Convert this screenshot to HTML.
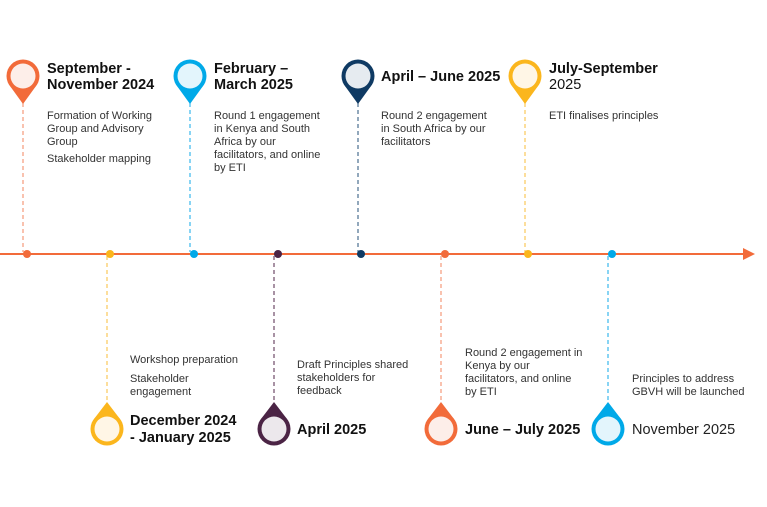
<!DOCTYPE html>
<html><head><meta charset="utf-8"><style>
html,body{margin:0;padding:0;background:#fff;}
svg{display:block;font-family:"Liberation Sans",sans-serif;}
.t{font-size:14.5px;font-weight:bold;fill:#111;}
.b{font-size:11px;fill:#333;}
</style></head><body>
<svg width="767" height="507" viewBox="0 0 767 507">
<line x1="0" y1="254" x2="745" y2="254" stroke="#f26b3a" stroke-width="2"/>
<polygon points="743,248 755,254 743,260" fill="#f26b3a"/>
<g stroke-width="1.2" stroke-dasharray="4,3">
<line x1="23" y1="103" x2="23" y2="252" stroke="#f59a7a"/>
<line x1="190" y1="103" x2="190" y2="252" stroke="#3ab7ec"/>
<line x1="358" y1="103" x2="358" y2="252" stroke="#4a6f90"/>
<line x1="525" y1="103" x2="525" y2="252" stroke="#fbc75a"/>
<line x1="107" y1="256" x2="107" y2="403" stroke="#fbc75a"/>
<line x1="274" y1="256" x2="274" y2="403" stroke="#6e4a67"/>
<line x1="441" y1="256" x2="441" y2="403" stroke="#f59a7a"/>
<line x1="608" y1="256" x2="608" y2="403" stroke="#3ab7ec"/>
</g>
<circle cx="27" cy="254" r="4" fill="#f26b3a"/>
<circle cx="110" cy="254" r="4" fill="#fbb61d"/>
<circle cx="194" cy="254" r="4" fill="#00a9e8"/>
<circle cx="278" cy="254" r="4" fill="#4b2445"/>
<circle cx="361" cy="254" r="4" fill="#0f3a63"/>
<circle cx="445" cy="254" r="4" fill="#f26b3a"/>
<circle cx="528" cy="254" r="4" fill="#fbb61d"/>
<circle cx="612" cy="254" r="4" fill="#00a9e8"/>
<g>
<circle cx="23" cy="76" r="16.5" fill="#f26b3a"/><polygon points="10,86 36,86 23,104" fill="#f26b3a"/><circle cx="23" cy="76" r="12.5" fill="#fdeee9"/>
<circle cx="190" cy="76" r="16.5" fill="#00a9e8"/><polygon points="177,86 203,86 190,104" fill="#00a9e8"/><circle cx="190" cy="76" r="12.5" fill="#e3f5fc"/>
<circle cx="358" cy="76" r="16.5" fill="#0f3a63"/><polygon points="345,86 371,86 358,104" fill="#0f3a63"/><circle cx="358" cy="76" r="12.5" fill="#e6ebf0"/>
<circle cx="525" cy="76" r="16.5" fill="#fbb61d"/><polygon points="512,86 538,86 525,104" fill="#fbb61d"/><circle cx="525" cy="76" r="12.5" fill="#fff6e6"/>
</g>
<g>
<circle cx="107" cy="429" r="16.5" fill="#fbb61d"/><polygon points="94,419 120,419 107,402" fill="#fbb61d"/><circle cx="107" cy="429" r="12.5" fill="#fff6e6"/>
<circle cx="274" cy="429" r="16.5" fill="#4b2445"/><polygon points="261,419 287,419 274,402" fill="#4b2445"/><circle cx="274" cy="429" r="12.5" fill="#ece8ec"/>
<circle cx="441" cy="429" r="16.5" fill="#f26b3a"/><polygon points="428,419 454,419 441,402" fill="#f26b3a"/><circle cx="441" cy="429" r="12.5" fill="#fdeee9"/>
<circle cx="608" cy="429" r="16.5" fill="#00a9e8"/><polygon points="595,419 621,419 608,402" fill="#00a9e8"/><circle cx="608" cy="429" r="12.5" fill="#e3f5fc"/>
</g>
<text class="t" x="47" y="73">September -</text>
<text class="t" x="47" y="89">November 2024</text>
<text class="b" x="47" y="119">Formation of Working</text>
<text class="b" x="47" y="132">Group and Advisory</text>
<text class="b" x="47" y="145">Group</text>
<text class="b" x="47" y="162">Stakeholder mapping</text>

<text class="t" x="214" y="73">February –</text>
<text class="t" x="214" y="89">March 2025</text>
<text class="b" x="214" y="119">Round 1 engagement</text>
<text class="b" x="214" y="132">in Kenya and South</text>
<text class="b" x="214" y="145">Africa by our</text>
<text class="b" x="214" y="158">facilitators, and online</text>
<text class="b" x="214" y="171">by ETI</text>

<text class="t" x="381" y="81">April – June 2025</text>
<text class="b" x="381" y="119">Round 2 engagement</text>
<text class="b" x="381" y="132">in South Africa by our</text>
<text class="b" x="381" y="145">facilitators</text>

<text class="t" x="549" y="73">July-September</text>
<text x="549" y="89" style="font-size:14.5px;fill:#111">2025</text>
<text class="b" x="549" y="119">ETI finalises principles</text>

<text class="b" x="130" y="363">Workshop preparation</text>
<text class="b" x="130" y="382">Stakeholder</text>
<text class="b" x="130" y="395">engagement</text>
<text class="t" x="130" y="425">December 2024</text>
<text class="t" x="130" y="442">- January 2025</text>

<text class="b" x="297" y="368">Draft Principles shared</text>
<text class="b" x="297" y="381">stakeholders for</text>
<text class="b" x="297" y="394">feedback</text>
<text class="t" x="297" y="434">April 2025</text>

<text class="b" x="465" y="356">Round 2 engagement in</text>
<text class="b" x="465" y="369">Kenya by our</text>
<text class="b" x="465" y="382">facilitators, and online</text>
<text class="b" x="465" y="395">by ETI</text>
<text class="t" x="465" y="434">June – July 2025</text>

<text class="b" x="632" y="382">Principles to address</text>
<text class="b" x="632" y="395">GBVH will be launched</text>
<text x="632" y="434" style="font-size:14.5px;fill:#222">November 2025</text>
</svg>
</body></html>
